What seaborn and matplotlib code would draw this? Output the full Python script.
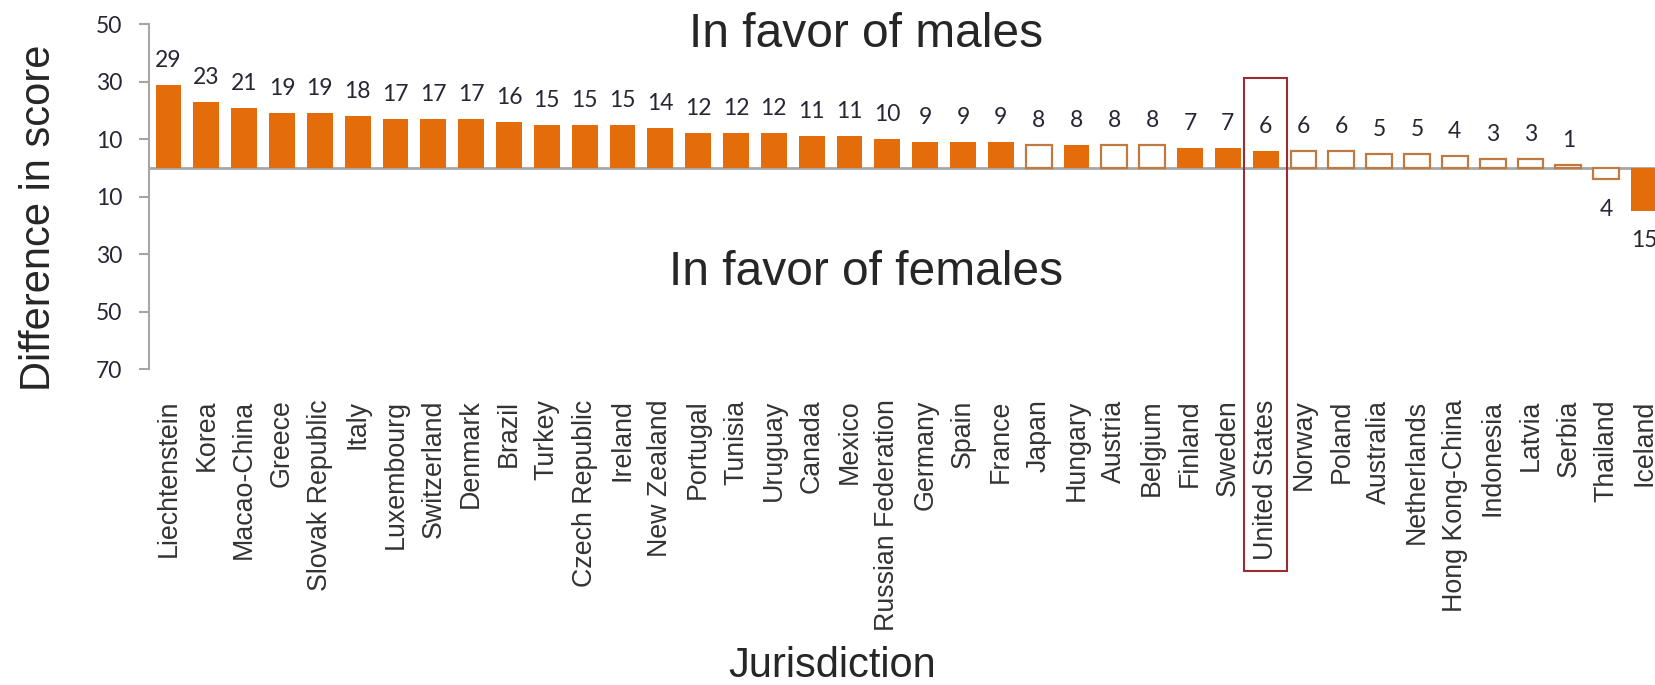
import numpy as np
import pandas as pd
import matplotlib
matplotlib.use("Agg")
import matplotlib.pyplot as plt
import matplotlib.transforms as mtransforms
from matplotlib.patches import Rectangle
import seaborn as sns

countries = ["Liechtenstein", "Korea", "Macao-China", "Greece", "Slovak Republic",
             "Italy", "Luxembourg", "Switzerland", "Denmark", "Brazil", "Turkey",
             "Czech Republic", "Ireland", "New Zealand", "Portugal", "Tunisia",
             "Uruguay", "Canada", "Mexico", "Russian Federation", "Germany", "Spain",
             "France", "Japan", "Hungary", "Austria", "Belgium", "Finland", "Sweden",
             "United States", "Norway", "Poland", "Australia", "Netherlands",
             "Hong Kong-China", "Indonesia", "Latvia", "Serbia", "Thailand", "Iceland"]
score_diff = [29, 23, 21, 19, 19, 18, 17, 17, 17, 16, 15, 15, 15, 14, 12, 12, 12, 11,
              11, 10, 9, 9, 9, 8, 8, 8, 8, 7, 7, 6, 6, 6, 5, 5, 4, 3, 3, 1, -4, -15]
significant = [1, 1, 1, 1, 1, 1, 1, 1, 1, 1, 1, 1, 1, 1, 1, 1, 1, 1, 1, 1, 1, 1, 1,
               0, 1, 0, 0, 1, 1, 1, 0, 0, 0, 0, 0, 0, 0, 0, 0, 1]
y_ticks = [50, 30, 10, -10, -30, -50, -70]
highlight = "United States"

df = pd.DataFrame({"country": countries, "diff": score_diff, "sig": significant})

orange = "#e46c0a"
open_edge = "#c07a40"
gray = "#a6a6a6"
num_color = "#262634"

sns.set_theme(style="white")
plt.rcParams["font.family"] = ["Liberation Sans", "DejaVu Sans"]

fig = plt.figure(figsize=(16.55, 6.85), dpi=100)
ax = fig.add_axes([0.0902, 0.4613, 0.9098, 0.5032])

sns.barplot(data=df, x="country", y="diff", order=countries, color=orange,
            width=0.68, saturation=1, ax=ax)

# filled = significant difference, open = not significant
for patch, s in zip(ax.patches, df["sig"]):
    if s:
        patch.set_facecolor(orange)
        patch.set_edgecolor("none")
    else:
        patch.set_facecolor("white")
        patch.set_edgecolor(open_edge)
        patch.set_linewidth(1.6)

# value labels
for i, v in enumerate(df["diff"]):
    if v >= 0:
        ax.annotate(f"{abs(v)}", (i, v), xytext=(0, 13), textcoords="offset points",
                    ha="center", va="baseline", fontsize=16.5, color=num_color,
                    family=["Lato", "DejaVu Sans"], annotation_clip=False)
    else:
        ax.annotate(f"{abs(v)}", (i, v), xytext=(0, -14), textcoords="offset points",
                    ha="center", va="top", fontsize=16.5, color=num_color,
                    family=["Lato", "DejaVu Sans"], annotation_clip=False)

ax.axhline(0, color=gray, lw=2.0, zorder=0.5)

ax.set_ylim(-70, 50)
ax.set_xlim(-0.508, 39.29)
ax.set_yticks(y_ticks)
ax.set_yticklabels([str(abs(t)) for t in y_ticks], fontsize=16.5, color=num_color,
                   family=["Lato", "DejaVu Sans"])
ax.set_xticks(range(len(countries)))
ax.set_xticklabels(countries, rotation=90, fontsize=19.3, color="#333333")

ax.tick_params(axis="y", direction="out", length=7.2, width=1.5, color=gray,
               pad=12, left=True)
ax.tick_params(axis="x", length=0, pad=22)

for side in ["top", "right", "bottom"]:
    ax.spines[side].set_visible(False)
ax.spines["left"].set_color(gray)
ax.spines["left"].set_linewidth(1.5)

ax.set_xlabel("")
ax.set_ylabel("")

# box around the highlighted jurisdiction
hi = countries.index(highlight)
trans = mtransforms.blended_transform_factory(ax.transData, ax.transAxes)
box = Rectangle((hi - 0.57, -0.586), 1.14, 0.845 + 0.586, transform=trans,
                fill=False, edgecolor="#9b2d30", lw=1.5, clip_on=False, zorder=5)
ax.add_patch(box)

fig.text(0.523, 0.931, "In favor of males", ha="center", va="baseline", fontsize=34.5)
fig.text(0.523, 0.584, "In favor of females", ha="center", va="baseline", fontsize=34.5)
fig.text(0.503, 0.012, "Jurisdiction", ha="center", va="baseline", fontsize=30)
fig.text(50 / 1655, 0.682, "Difference in score", rotation=90, rotation_mode="anchor",
         ha="center", va="baseline", fontsize=30)

fig.savefig("out.png", dpi=100)
